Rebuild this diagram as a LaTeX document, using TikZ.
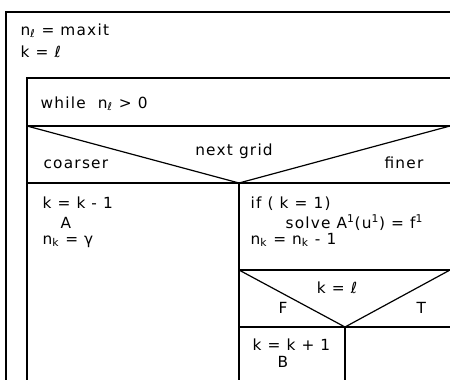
\documentclass[tikz,border=0pt]{standalone}
\usepackage{fontspec}
\setmainfont{DejaVu Sans}[LetterSpace=8]
\usepackage{tikz}

\begin{document}
\begin{tikzpicture}[x=0.75pt, y=-0.75pt, line width=0.9pt,
    every node/.style={font=\fontsize{11.5}{13}\selectfont, anchor=base west, inner sep=0pt}]
  \useasboundingbox (0,0) rectangle (450,380);
  % outer block
  \draw (450,12) -- (6,12) -- (6,380);
  \node (nlset) at (20,35) {n\textsubscript{ℓ} = maxit};
  \node (kset) at (20,57) {k = ℓ};
  % while loop
  \draw (450,78) -- (27,78) -- (27,380);
  \node (while) at (40,108) {while\ \ n\textsubscript{ℓ} > 0};
  % case: next grid
  \coordinate (vgrid) at (239,183);
  \draw (27,126) -- (450,126);
  \draw (27,126) -- (vgrid) -- (450,126);
  \draw (27,183) -- (450,183);
  \draw (vgrid) -- (239,380);
  \node[anchor=base] (grid) at (234,155) {next grid};
  \node (coarser) at (43,168) {coarser};
  \node[anchor=base east] (finer) at (424,168) {finer};
  % coarser branch
  \node (kdown) at (42,208) {k = k - 1};
  \node (opa) at (60,228) {A};
  \node (nkg) at (42,244) {n\textsubscript{k} = γ};
  % finer branch
  \node (ifk) at (250,208) {if ( k = 1)};
  \node (solve) at (285,228) {solve A\textsuperscript{1}(u\textsuperscript{1}) = f\textsuperscript{1}};
  \node (nkdec) at (250,244) {n\textsubscript{k} = n\textsubscript{k} - 1};
  % case: k = l
  \coordinate (vkl) at (345,327);
  \draw (239,270) -- (450,270);
  \draw (239,270) -- (vkl) -- (450,270);
  \draw (239,327) -- (450,327);
  \draw (vkl) -- (345,380);
  \node[anchor=base] (kltest) at (337,293) {k = ℓ};
  \node (false) at (278,313) {F};
  \node (true) at (416,313) {T};
  \node (kup) at (252,350) {k = k + 1};
  \node (opb) at (277,367) {B};
\end{tikzpicture}
\end{document}
